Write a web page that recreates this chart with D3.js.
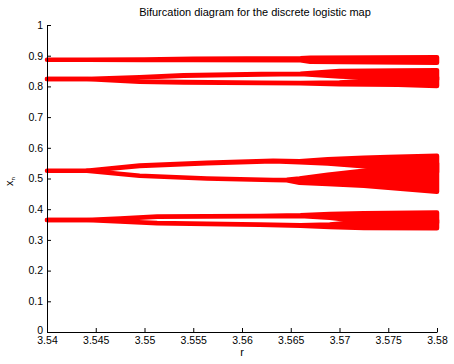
<!DOCTYPE html>
<html>
<head>
<meta charset="utf-8">
<script src="https://cdn.jsdelivr.net/npm/d3@7"></script>
<style>
  body { margin: 0; background: #fff; }
  text { font-family: "Liberation Sans", Arial, sans-serif; }
</style>
</head>
<body>
<script>
// tick values
const rTicks = [3.54, 3.545, 3.55, 3.555, 3.56, 3.565, 3.57, 3.575, 3.58];
const xTicks = [0, 0.1, 0.2, 0.3, 0.4, 0.5, 0.6, 0.7, 0.8, 0.9, 1];

// bands of the attractor: r, lower x, upper x
const topR  = [3.54, 3.5441, 3.55, 3.555, 3.566, 3.567, 3.58];
const topLo = [0.887, 0.887, 0.886, 0.886, 0.885, 0.880, 0.877];
const topHi = [0.887, 0.887, 0.888, 0.890, 0.892, 0.893, 0.895];

const secR    = [3.54, 3.5441, 3.5495, 3.554, 3.562, 3.566, 3.570, 3.576, 3.58];
const secUpLo = [0.824, 0.824, 0.829, 0.835, 0.839, 0.840, 0.832, 0.825, 0.822];
const secUpHi = [0.824, 0.824, 0.830, 0.836, 0.840, 0.841, 0.850, 0.852, 0.853];
const secDnLo = [0.824, 0.824, 0.815, 0.813, 0.811, 0.810, 0.807, 0.805, 0.801];
const secDnHi = [0.824, 0.824, 0.816, 0.814, 0.812, 0.811, 0.813, 0.825, 0.830];

const midUpR  = [3.54, 3.5441, 3.5495, 3.5564, 3.5632, 3.5659, 3.5688, 3.5725, 3.575, 3.58];
const midUpLo = [0.5255, 0.5255, 0.541, 0.550, 0.556, 0.553, 0.549, 0.540, 0.530, 0.520];
const midUpHi = [0.5255, 0.5255, 0.542, 0.551, 0.558, 0.556, 0.563, 0.568, 0.570, 0.574];

const midDnR  = [3.5441, 3.5495, 3.5564, 3.5632, 3.5646, 3.5659, 3.5688, 3.5725, 3.575, 3.58];
const midDnLo = [0.5255, 0.509, 0.500, 0.495, 0.494, 0.486, 0.482, 0.476, 0.470, 0.457];
const midDnHi = [0.5255, 0.509, 0.500, 0.495, 0.496, 0.500, 0.512, 0.525, 0.535, 0.550];

const lowR    = [3.54, 3.5441, 3.5475, 3.5513, 3.5564, 3.5618, 3.566, 3.569, 3.5725, 3.58];
const lowUpLo = [0.3648, 0.3648, 0.369, 0.375, 0.376, 0.377, 0.378, 0.372, 0.360, 0.355];
const lowUpHi = [0.3648, 0.3648, 0.370, 0.376, 0.377, 0.378, 0.380, 0.384, 0.387, 0.389];
const lowDnLo = [0.3648, 0.3648, 0.360, 0.354, 0.352, 0.349, 0.346, 0.342, 0.339, 0.338];
const lowDnHi = [0.3648, 0.3648, 0.360, 0.355, 0.353, 0.350, 0.348, 0.350, 0.360, 0.365];

const W = 454, H = 364;
const margin = {top: 25, right: 17, bottom: 32, left: 47};

const svg = d3.select("body").append("svg")
    .attr("width", W)
    .attr("height", H);

const x = d3.scaleLinear().domain([3.54, 3.58]).range([margin.left, W - margin.right]);
const y = d3.scaleLinear().domain([0, 1]).range([H - margin.bottom, margin.top]);

// build band list
const band = (r, lo, hi) => r.map((v, i) => ({r: v, lo: lo[i], hi: hi[i]}));
const bands = [
    band(topR, topLo, topHi),
    band(secR, secUpLo, secUpHi),
    band(secR, secDnLo, secDnHi),
    band(midUpR, midUpLo, midUpHi),
    band(midDnR, midDnLo, midDnHi),
    band(lowR, lowUpLo, lowUpHi),
    band(lowR, lowDnLo, lowDnHi)
];

const area = d3.area()
    .x(d => x(d.r))
    .y0(d => y(d.lo))
    .y1(d => y(d.hi));

svg.append("g").selectAll("path")
    .data(bands)
    .join("path")
        .attr("d", area)
        .attr("fill", "#ff0000")
        .attr("stroke", "#ff0000")
        .attr("stroke-width", 4.5)
        .attr("stroke-linejoin", "round");

// axes (ticks point inward)
const xAxis = svg.append("g")
    .attr("transform", `translate(0,${H - margin.bottom})`)
    .call(d3.axisBottom(x).tickValues(rTicks).tickSizeInner(-4).tickSizeOuter(0)
        .tickPadding(5).tickFormat(d3.format("")));
const yAxis = svg.append("g")
    .attr("transform", `translate(${margin.left},0)`)
    .call(d3.axisLeft(y).tickValues(xTicks).tickSizeInner(-4).tickSizeOuter(0)
        .tickPadding(4).tickFormat(d3.format("")));

[xAxis, yAxis].forEach(g => {
    g.select(".domain").attr("stroke", "#000");
    g.selectAll(".tick line").attr("stroke", "#000");
    g.selectAll(".tick text").attr("fill", "#000")
        .style("font-family", "'Liberation Sans', Arial, sans-serif")
        .style("font-size", "10.5px");
});
// the "0" sits a little higher, clear of the r labels
yAxis.selectAll(".tick text").filter(d => d === 0).attr("dy", "0.1em");

// title and labels
svg.append("text")
    .attr("x", 255).attr("y", 16)
    .attr("text-anchor", "middle")
    .style("font-size", "11px")
    .text("Bifurcation diagram for the discrete logistic map");

svg.append("text")
    .attr("x", x(3.56)).attr("y", 356)
    .attr("text-anchor", "middle")
    .style("font-size", "11px")
    .text("r");

const yl = svg.append("text")
    .attr("transform", `translate(13,${y(0.49)}) rotate(-90)`)
    .attr("text-anchor", "middle")
    .style("font-size", "11px");
yl.append("tspan").text("x");
yl.append("tspan").attr("dy", 2).style("font-size", "6px").text("n");
</script>
</body>
</html>
